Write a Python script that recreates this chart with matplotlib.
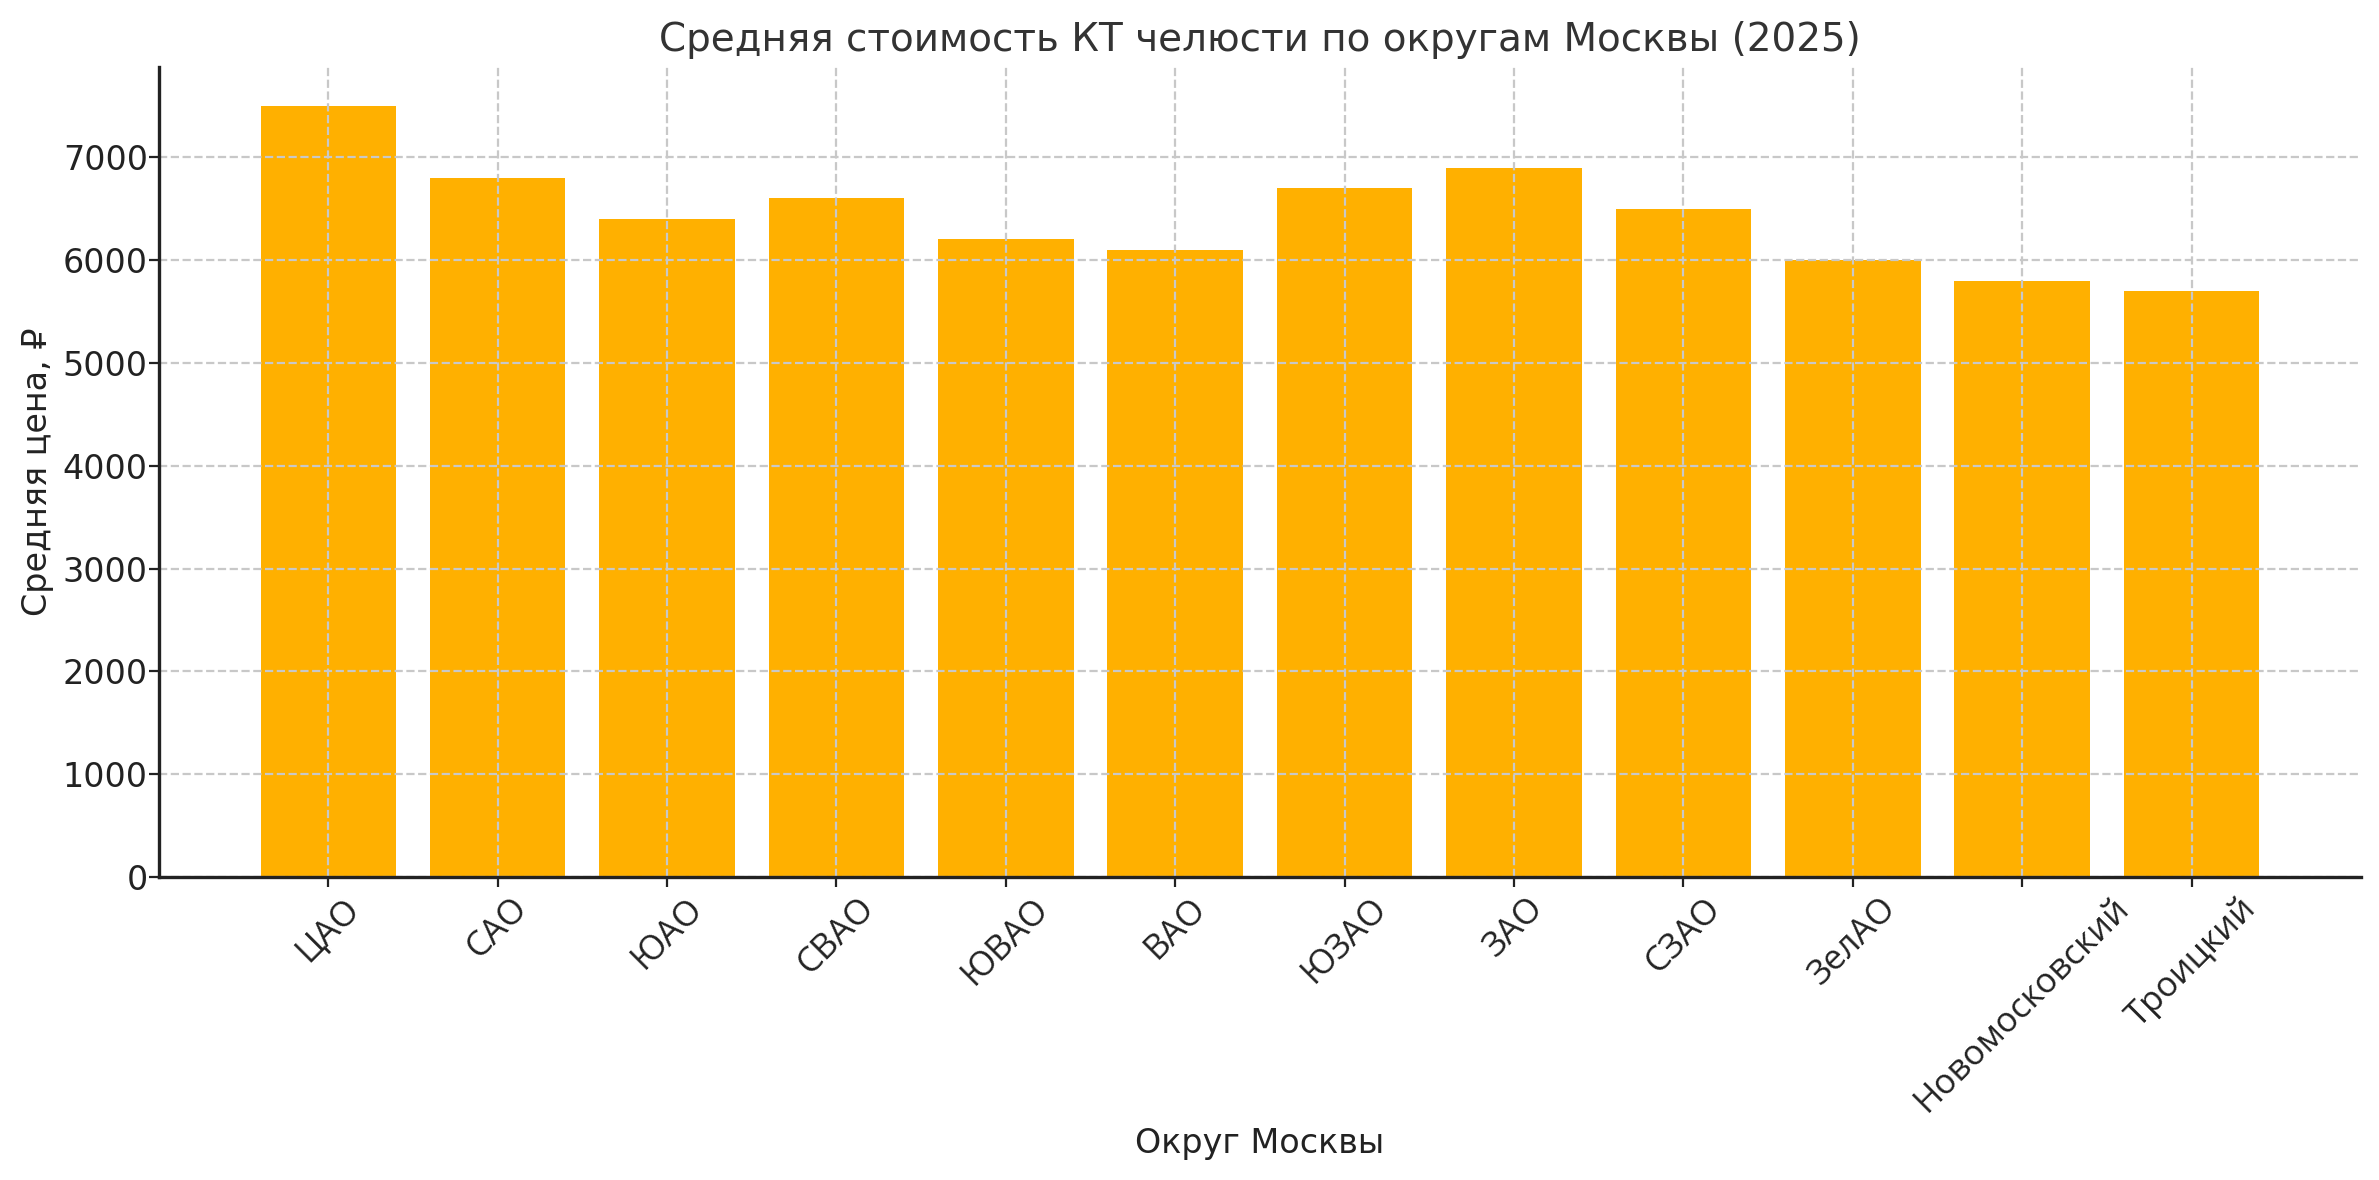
import matplotlib
matplotlib.use("Agg")
import matplotlib.pyplot as plt

districts = ["ЦАО", "САО", "ЮАО", "СВАО", "ЮВАО", "ВАО", "ЮЗАО", "ЗАО",
             "СЗАО", "ЗелАО", "Новомосковский", "Троицкий"]
prices = [7500, 6800, 6400, 6600, 6200, 6100, 6700, 6900, 6500, 6000, 5800, 5700]

plt.rcParams['font.family'] = ['DejaVu Sans']

fig = plt.figure(figsize=(11.895, 5.9), dpi=200)
ax = fig.add_axes([0.0668, 0.2568, 0.9256, 0.6862])

ax.bar(districts, prices, color="#FFB000", width=0.8, zorder=2)
ax.set_xlim(-1, 12)

ax.grid(True, linestyle="--", color="#c8c8c8", linewidth=0.8, zorder=3)
ax.set_axisbelow(False)

ax.set_title("Средняя стоимость КТ челюсти по округам Москвы (2025)",
             fontsize=14, color="#333333")
ax.set_xlabel("Округ Москвы", fontsize=12, color="#222222", labelpad=3)
ax.set_ylabel("Средняя цена, ₽", fontsize=12, color="#222222", labelpad=3)
ax.tick_params(axis="y", labelsize=12, colors="#222222", pad=0.5)
ax.tick_params(axis="x", colors="#222222", pad=1.5)
plt.setp(ax.get_xticklabels(), rotation=45, family=["Open Sans", "DejaVu Sans"],
         fontsize=12.5)

for s in ["top", "right"]:
    ax.spines[s].set_visible(False)
for s in ["left", "bottom"]:
    ax.spines[s].set_color("#222222")
    ax.spines[s].set_linewidth(1.2)
    ax.spines[s].set_zorder(4)

fig.savefig("out.png", dpi=200)
